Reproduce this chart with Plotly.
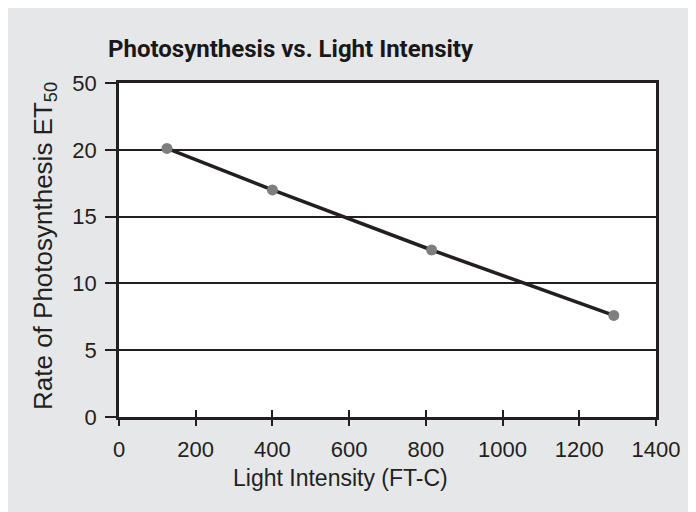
import plotly.graph_objects as go

# data
light_intensity = [125, 400, 815, 1290]
photo_rate = [20.1, 17.0, 12.5, 7.6]

x_ticks = [0, 200, 400, 600, 800, 1000, 1200, 1400]
y_ticks = [0, 5, 10, 15, 20, 25]
y_tick_text = ["0", "5", "10", "15", "20", "50"]

INK = "#231f20"
BG = "#e6e7e8"
MARKER = "#7f7f7f"

fig = go.Figure()

fig.add_trace(go.Scatter(
    x=light_intensity,
    y=photo_rate,
    mode="lines+markers",
    line=dict(color=INK, width=3.5),
    marker=dict(color=MARKER, size=11),
    showlegend=False,
    hoverinfo="x+y",
))

# invisible trace so the overlay axis (inside half of the crossing ticks) gets drawn
fig.add_trace(go.Scatter(
    x=light_intensity, y=photo_rate, xaxis="x2",
    mode="markers", marker=dict(opacity=0), showlegend=False, hoverinfo="skip",
))

tick_font = dict(family="Liberation Sans, Arial, sans-serif", size=22, color=INK)

fig.update_layout(
    width=696,
    height=512,
    margin=dict(l=111, r=48, t=75, b=103),
    paper_bgcolor=BG,
    plot_bgcolor="white",
    xaxis=dict(
        range=[0, 1400],
        tickvals=x_ticks,
        ticks="outside",
        ticklen=6,
        tickwidth=2,
        tickcolor=INK,
        showline=True,
        linecolor=INK,
        linewidth=2.5,
        mirror=True,
        showgrid=False,
        zeroline=False,
        tickfont=tick_font,
        ticklabelstandoff=5,
    ),
    xaxis2=dict(
        range=[0, 1400],
        overlaying="x",
        anchor="y",
        side="bottom",
        tickvals=x_ticks,
        ticks="inside",
        ticklen=7,
        tickwidth=2,
        tickcolor=INK,
        showticklabels=False,
        showgrid=False,
        zeroline=False,
        showline=False,
    ),
    yaxis=dict(
        range=[0, 25],
        tickvals=y_ticks,
        ticktext=y_tick_text,
        ticks="outside",
        ticklen=11,
        tickwidth=2,
        tickcolor=INK,
        showline=True,
        linecolor=INK,
        linewidth=2.5,
        mirror=True,
        showgrid=True,
        gridcolor=INK,
        gridwidth=2,
        zeroline=False,
        tickfont=tick_font,
        ticklabelstandoff=4,
    ),
    annotations=[
        dict(
            text="Photosynthesis vs. Light Intensity",
            xref="paper", yref="paper", x=0.3203, y=1.1018,
            xanchor="center", yanchor="middle", showarrow=False,
            font=dict(family="Roboto, sans-serif", size=24, weight="bold", color="#1a1718"),
        ),
        dict(
            text="Light Intensity (FT-C)",
            xref="paper", yref="paper", x=0.4134, y=-0.1826,
            xanchor="center", yanchor="middle", showarrow=False,
            font=dict(family="Liberation Sans, Arial, sans-serif", size=23, color=INK),
        ),
        dict(
            text="Rate of Photosynthesis ET<sub>50</sub>",
            xref="paper", yref="paper", x=-0.1378, y=0.512,
            xanchor="center", yanchor="middle", showarrow=False, textangle=-90,
            font=dict(family="Liberation Sans, Arial, sans-serif", size=26, color=INK),
        ),
    ],
)

fig.write_html("out.html")
